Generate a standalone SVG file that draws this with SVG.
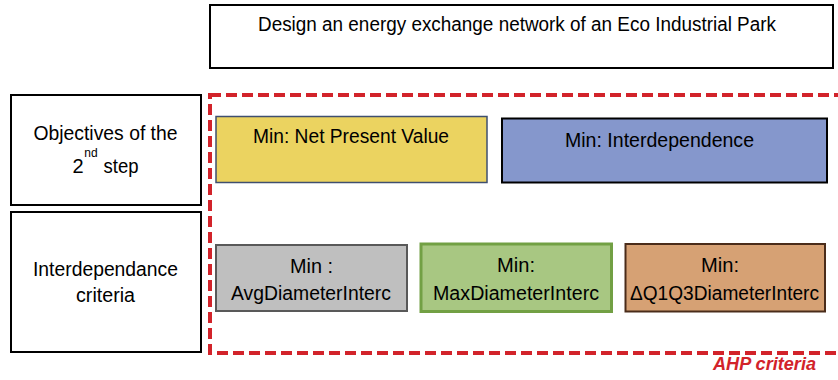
<svg xmlns="http://www.w3.org/2000/svg" width="838" height="380" viewBox="0 0 838 380">
<style>
text{font-family:"Liberation Sans",Arial,sans-serif;font-size:20px;fill:#000;text-anchor:middle}
.lbl{stroke:#000;stroke-width:2;fill:#fff}
.ahp{font-weight:bold;font-style:italic;fill:#D2232A;font-size:18px;text-anchor:start}
</style>
<rect width="838" height="380" fill="#fff"/>
<g id="goal">
<rect class="lbl" x="210" y="5" width="623" height="63"/>
<text x="517" y="31" textLength="518" lengthAdjust="spacingAndGlyphs">Design an energy exchange network of an Eco Industrial Park</text>
</g>
<g id="objectives">
<rect class="lbl" x="11" y="95" width="190" height="110"/>
<text x="105.5" y="140" textLength="144" lengthAdjust="spacingAndGlyphs">Objectives of the</text>
<text x="78" y="173">2</text>
<text x="91" y="157" style="font-size:12px">nd</text>
<text x="121" y="173" textLength="35" lengthAdjust="spacingAndGlyphs">step</text>
</g>
<g id="criteria">
<rect class="lbl" x="11" y="212" width="190" height="140"/>
<text x="105.5" y="276" textLength="145" lengthAdjust="spacingAndGlyphs">Interdependance</text>
<text x="105.5" y="302" textLength="59" lengthAdjust="spacingAndGlyphs">criteria</text>
</g>
<g id="ahp">
<rect x="210" y="95" width="640" height="258" fill="none" stroke="#D2232A" stroke-width="4" stroke-dasharray="11 5"/>
<text class="ahp" x="713" y="370" textLength="103" lengthAdjust="spacingAndGlyphs">AHP criteria</text>
</g>
<g id="npv">
<rect x="216" y="116.5" width="271" height="66" fill="#EBD360" stroke="#3F4F6F" stroke-width="1.5"/>
<text x="351" y="143" textLength="196" lengthAdjust="spacingAndGlyphs">Min: Net Present Value</text>
</g>
<g id="interdep">
<rect x="502" y="118.5" width="325" height="64" fill="#8597CC" stroke="#000" stroke-width="2"/>
<text x="659.5" y="147" textLength="189" lengthAdjust="spacingAndGlyphs">Min: Interdependence</text>
</g>
<g id="avg">
<rect x="216" y="245" width="191" height="66" fill="#BFBFBF" stroke="#595959" stroke-width="2"/>
<text x="311.5" y="273" textLength="43" lengthAdjust="spacingAndGlyphs">Min :</text>
<text x="311" y="299.5" textLength="160" lengthAdjust="spacingAndGlyphs">AvgDiameterInterc</text>
</g>
<g id="max">
<rect x="421" y="244" width="190.5" height="67.5" fill="#A8C782" stroke="#72A044" stroke-width="3"/>
<text x="516" y="272" textLength="38" lengthAdjust="spacingAndGlyphs">Min:</text>
<text x="516" y="299.5" textLength="166" lengthAdjust="spacingAndGlyphs">MaxDiameterInterc</text>
</g>
<g id="q1q3">
<rect x="625.5" y="244" width="199.5" height="67.5" fill="#D6A174" stroke="#4A2C1A" stroke-width="2"/>
<text x="720" y="272" textLength="38" lengthAdjust="spacingAndGlyphs">Min:</text>
<text x="724.5" y="299.5" textLength="189" lengthAdjust="spacingAndGlyphs">ΔQ1Q3DiameterInterc</text>
</g>
<g id="connectors"></g>
</svg>
